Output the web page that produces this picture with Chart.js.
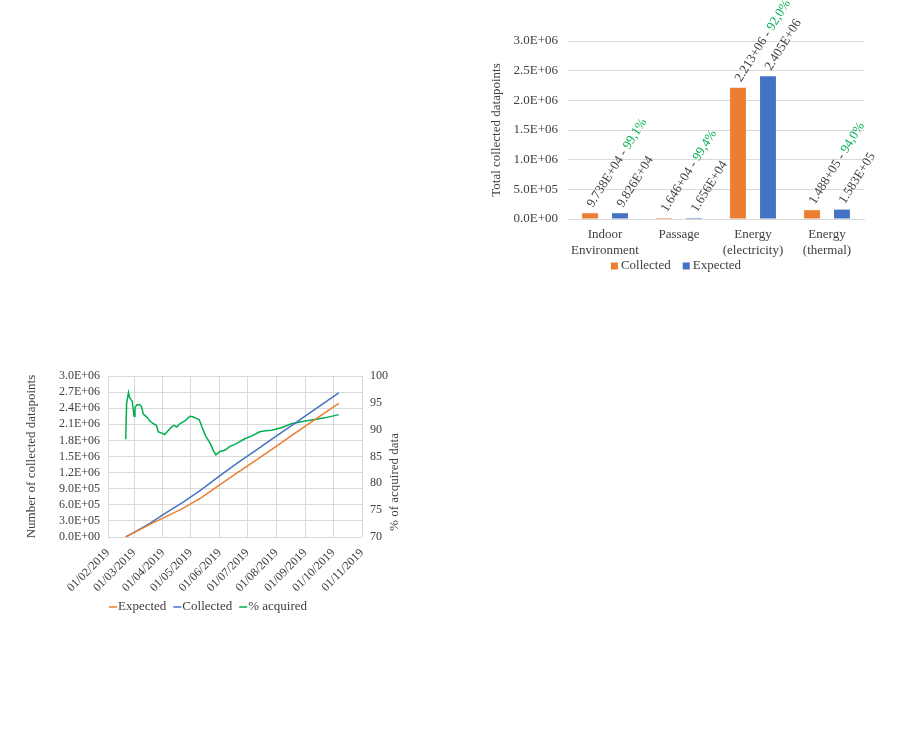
<!DOCTYPE html>
<html>
<head>
<meta charset="utf-8">
<script src="https://cdn.jsdelivr.net/npm/chart.js@4.4.1/dist/chart.umd.min.js"></script>
<style>
  html, body { margin: 0; padding: 0; background: #fff; width: 901px; height: 756px; overflow: hidden; }
  .box { position: absolute; }
  #barBox { left: 480px; top: 0; width: 400px; height: 282px; }
  #lineBox { left: 20px; top: 360px; width: 380px; height: 260px; }
</style>
</head>
<body>
<div class="box" id="barBox"><canvas id="barChart"></canvas></div>
<div class="box" id="lineBox"><canvas id="lineChart"></canvas></div>
<script>
// ---- bar chart data ----
const barCategories = [['Indoor', 'Environment'], 'Passage', ['Energy', '(electricity)'], ['Energy', '(thermal)']];
const collectedValues = [97380, 16460, 2213000, 148800];
const expectedValues = [98260, 16560, 2405000, 158300];
const collectedText = ['9.738E+04', '1.646+04', '2.213+06', '1.488+05'];
const expectedText = ['9.826E+04', '1.656E+04', '2.405E+06', '1.583E+05'];
const acquiredText = ['99,1%', '99,4%', '92,0%', '94,0%'];

// ---- line chart data (x = days since 01/02/2019) ----
const monthTickDays = [0, 28, 59, 89, 120, 150, 181, 212, 242, 273];
const monthTickLabels = ['01/02/2019', '01/03/2019', '01/04/2019', '01/05/2019', '01/06/2019',
  '01/07/2019', '01/08/2019', '01/09/2019', '01/10/2019', '01/11/2019'];
const lineDays = [19, 30, 45, 60, 80, 100, 120, 140, 160, 180, 200, 220, 248];
const expectedLine = [0, 100000, 235000, 360000, 530000, 730000, 970000, 1210000, 1440000, 1680000, 1920000, 2160000, 2490000];
const collectedLine = [0, 105000, 255000, 425000, 640000, 880000, 1140000, 1390000, 1630000, 1870000, 2110000, 2350000, 2685000];
const pctDays = [19, 20, 22, 23, 25, 26, 28, 29, 31, 34, 36, 38, 42, 45, 49, 52, 54, 57, 61, 65, 69, 71, 74, 77,
  83, 88, 91, 95, 98, 101, 105, 110, 113, 116, 120, 126, 131, 137, 147, 154, 163, 169, 176, 187, 197, 212, 222, 233, 248];
const pctValues = [88.2, 94.9, 96.9, 96.1, 95.5, 95.3, 92.5, 94.1, 94.6, 94.7, 94.3, 92.9, 92.3, 91.6, 91.1, 90.8, 89.6, 89.4, 89.1, 89.9, 90.6, 90.8, 90.5, 91.1,
  91.7, 92.5, 92.4, 92.1, 91.9, 90.5, 88.8, 87.4, 86.2, 85.3, 85.9, 86.2, 86.9, 87.3, 88.3, 88.8, 89.6, 89.8, 89.9, 90.4, 91.1, 91.6, 91.9, 92.2, 92.8];

const ORANGE = '#ED7D31';
const BLUE = '#4472C4';
const GREEN = '#00B050';
const TEXT = '#404040';
const GRID = '#d9d9d9';
const FAMILY = '"Liberation Serif", "Times New Roman", serif';

Chart.defaults.font.family = FAMILY;
Chart.defaults.color = TEXT;

function sci(v) {
  if (v === 0) return '0.0E+00';
  const e = Math.floor(Math.log10(Math.abs(v)) + 1e-9);
  const m = v / Math.pow(10, e);
  return m.toFixed(1) + 'E' + (e < 0 ? '-' : '+') + String(Math.abs(e)).padStart(2, '0');
}

const toXY = (xs, ys) => xs.map((x, i) => ({ x, y: ys[i] }));

// labels above the bars, rotated, percent part in green
const barLabels = {
  id: 'barLabels',
  afterDatasetsDraw(chart) {
    const ctx = chart.ctx;
    ctx.save();
    ctx.font = '13px ' + FAMILY;
    ctx.textBaseline = 'middle';
    ctx.textAlign = 'left';
    chart.data.datasets.forEach((ds, di) => {
      chart.getDatasetMeta(di).data.forEach((bar, i) => {
        ctx.save();
        ctx.translate(bar.x, bar.y - 7);
        ctx.rotate(-58 * Math.PI / 180);
        const txt = di === 0 ? collectedText[i] + ' - ' : expectedText[i];
        ctx.fillStyle = TEXT;
        ctx.fillText(txt, 0, 0);
        if (di === 0) {
          ctx.fillStyle = GREEN;
          ctx.fillText(acquiredText[i], ctx.measureText(txt).width, 0);
        }
        ctx.restore();
      });
    });
    ctx.restore();
  }
};

// right axis title reads bottom-to-top like the left one
const rightTitle = {
  id: 'rightTitle',
  afterDraw(chart) {
    const ctx = chart.ctx;
    ctx.save();
    ctx.font = '13px ' + FAMILY;
    ctx.fillStyle = TEXT;
    ctx.textAlign = 'center';
    ctx.textBaseline = 'middle';
    ctx.translate(375, 122);
    ctx.rotate(-Math.PI / 2);
    ctx.fillText('% of acquired data', 0, 0);
    ctx.restore();
  }
};

// compact legend: symbol tight against its text
function compactLegend(cfg) {
  return {
    id: 'compactLegend',
    afterDraw(chart) {
      const ctx = chart.ctx;
      ctx.save();
      ctx.font = '13px ' + FAMILY;
      ctx.textBaseline = 'middle';
      ctx.textAlign = 'left';
      const items = chart.data.datasets.map(ds => ({
        text: ds.label,
        color: ds.borderColor || ds.backgroundColor,
        w: ctx.measureText(ds.label).width
      }));
      const total = items.reduce((a, it) => a + cfg.sym + cfg.symGap + it.w, 0) + cfg.itemGap * (items.length - 1);
      let x = cfg.cx - total / 2;
      items.forEach(it => {
        if (cfg.type === 'box') {
          ctx.fillStyle = it.color;
          ctx.fillRect(x, cfg.y - cfg.sym / 2, cfg.sym, cfg.sym);
        } else {
          ctx.strokeStyle = it.color;
          ctx.lineWidth = 1.5;
          ctx.beginPath();
          ctx.moveTo(x, cfg.y);
          ctx.lineTo(x + cfg.sym, cfg.y);
          ctx.stroke();
        }
        x += cfg.sym + cfg.symGap;
        ctx.fillStyle = TEXT;
        ctx.fillText(it.text, x, cfg.y);
        x += it.w + cfg.itemGap;
      });
      ctx.restore();
    }
  };
}

new Chart(document.getElementById('barChart'), {
  type: 'bar',
  data: {
    labels: barCategories,
    datasets: [
      { label: 'Collected', data: collectedValues, backgroundColor: ORANGE, categoryPercentage: 0.81, barPercentage: 0.53 },
      { label: 'Expected', data: expectedValues, backgroundColor: BLUE, categoryPercentage: 0.81, barPercentage: 0.53 }
    ]
  },
  options: {
    responsive: true,
    maintainAspectRatio: false,
    animation: false,
    layout: { padding: { top: 41, right: 16, left: 0, bottom: 21 } },
    plugins: { tooltip: { enabled: false }, legend: { display: false } },
    scales: {
      x: {
        grid: { display: false },
        border: { color: GRID },
        ticks: { font: { size: 13 }, color: TEXT, padding: 0, maxRotation: 0 },
        afterFit(s) { s.height = 42; }
      },
      y: {
        min: 0,
        max: 3000000,
        ticks: { stepSize: 500000, callback: sci, padding: 10, font: { size: 13 }, color: TEXT },
        grid: { color: GRID, drawTicks: false },
        border: { display: false },
        title: { display: true, text: 'Total collected datapoints', font: { size: 13 }, color: TEXT, padding: { top: 9, bottom: 0 } },
        afterFit(s) { s.width = 88; }
      }
    }
  },
  plugins: [barLabels, compactLegend({ type: 'box', cx: 196, y: 266, sym: 7, symGap: 3, itemGap: 12 })]
});

new Chart(document.getElementById('lineChart'), {
  type: 'line',
  data: {
    datasets: [
      { label: 'Expected', data: toXY(lineDays, expectedLine), borderColor: ORANGE, backgroundColor: ORANGE, yAxisID: 'y' },
      { label: 'Collected', data: toXY(lineDays, collectedLine), borderColor: BLUE, backgroundColor: BLUE, yAxisID: 'y' },
      { label: '% acquired', data: toXY(pctDays, pctValues), borderColor: GREEN, backgroundColor: GREEN, yAxisID: 'y1' }
    ]
  },
  options: {
    responsive: true,
    maintainAspectRatio: false,
    animation: false,
    elements: { point: { radius: 0 }, line: { borderWidth: 1.5, tension: 0 } },
    layout: { padding: { top: 16, right: 0, left: 0, bottom: 25 } },
    plugins: { tooltip: { enabled: false }, legend: { display: false } },
    scales: {
      x: {
        type: 'linear',
        min: 0,
        max: 273,
        afterBuildTicks(s) { s.ticks = monthTickDays.map(v => ({ value: v })); },
        ticks: {
          autoSkip: false,
          maxRotation: 45,
          minRotation: 45,
          padding: 9,
          font: { size: 12 },
          color: TEXT,
          callback: (v) => monthTickLabels[monthTickDays.indexOf(v)]
        },
        grid: { color: GRID, drawTicks: false },
        border: { display: false },
        afterFit(s) { s.height = 58; }
      },
      y: {
        position: 'left',
        min: 0,
        max: 3000000,
        ticks: { stepSize: 300000, autoSkip: false, callback: sci, padding: 8, font: { size: 12 }, color: TEXT },
        grid: { color: GRID, drawTicks: false },
        border: { display: false },
        title: { display: true, text: 'Number of collected datapoints', font: { size: 13 }, color: TEXT, padding: { top: 4, bottom: 0 } },
        afterFit(s) { s.width = 88; }
      },
      y1: {
        position: 'right',
        min: 70,
        max: 100,
        ticks: { stepSize: 5, autoSkip: false, padding: 8, font: { size: 12 }, color: TEXT },
        grid: { display: false, drawTicks: false },
        border: { display: false },
        afterFit(s) { s.width = 38; }
      }
    }
  },
  plugins: [rightTitle, compactLegend({ type: 'line', cx: 188, y: 247, sym: 8, symGap: 1, itemGap: 7 })]
});
</script>
</body>
</html>
